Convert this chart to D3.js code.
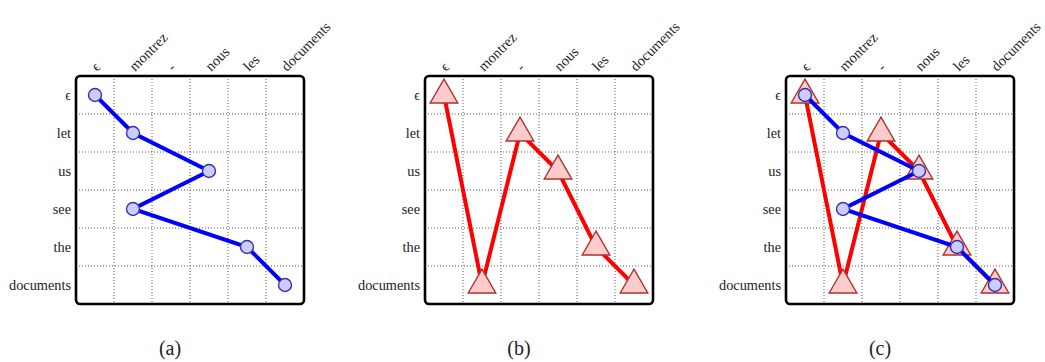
<!DOCTYPE html>
<html>
<head>
<meta charset="utf-8">
<script src="https://cdn.jsdelivr.net/npm/d3@7"></script>
<style>
  body { margin: 0; background: #fff; }
  svg text { font-family: "Liberation Serif", "Times New Roman", serif; fill: #222; }
</style>
</head>
<body>
<div id="chart"></div>
<script>
const sourceWords = ["ϵ", "montrez", "-", "nous", "les", "documents"];
const targetWords = ["ϵ", "let", "us", "see", "the", "documents"];
// blue alignment: column index for each target row, in row order
const blueCols = [0, 1, 3, 1, 4, 5];
// red alignment: row index for each source column, in column order
const redRows = [0, 5, 1, 2, 4, 5];
const captions = ["(a)", "(b)", "(c)"];
const panelShow = [["blue"], ["red"], ["red", "blue"]];

const w = 1045;
const h = 362;
const size = 228;
const topY = 76;
const lefts = [76, 425, 786];
const serif = "'Liberation Serif', 'Times New Roman', serif";

const svg = d3.select("#chart")
              .append("svg")
              .attr("width", w)
              .attr("height", h);

const xScale = d3.scaleBand().domain(d3.range(sourceWords.length)).range([0, size]);
const yScale = d3.scaleBand().domain(d3.range(targetWords.length)).range([0, size]);
const cx = i => xScale(i) + xScale.bandwidth() / 2;
const cy = i => yScale(i) + yScale.bandwidth() / 2;

const bluePts = blueCols.map((c, r) => [c, r]);
const redPts = redRows.map((r, c) => [c, r]);

const line = d3.line().x(d => cx(d[0])).y(d => cy(d[1]));
const tri = d3.symbol(d3.symbolTriangle, 330);

lefts.forEach((left, p) => {
    const g = svg.append("g").attr("transform", `translate(${left}, ${topY})`);

    // dotted grid
    g.selectAll(".vgrid")
     .data(d3.range(1, sourceWords.length))
     .enter().append("line")
     .attr("x1", d => xScale(d)).attr("x2", d => xScale(d))
     .attr("y1", 0).attr("y2", size)
     .attr("stroke", "#333").attr("stroke-width", 0.8)
     .attr("stroke-dasharray", "1 2");
    g.selectAll(".hgrid")
     .data(d3.range(1, targetWords.length))
     .enter().append("line")
     .attr("y1", d => yScale(d)).attr("y2", d => yScale(d))
     .attr("x1", 0).attr("x2", size)
     .attr("stroke", "#333").attr("stroke-width", 0.8)
     .attr("stroke-dasharray", "1 2");

    // axes
    const xAxis = d3.axisTop(xScale).tickSize(0).tickFormat(i => sourceWords[i]);
    const gx = g.append("g").attr("transform", "translate(0, -7)").call(xAxis);
    gx.attr("font-family", null).attr("font-size", null);
    gx.select(".domain").remove();
    gx.selectAll("text")
      .style("font-family", serif)
      .style("font-size", "14.5px")
      .attr("fill", "#222")
      .attr("text-anchor", "start")
      .attr("x", 0).attr("y", 0).attr("dy", "0.3em")
      .attr("transform", "translate(-1, 0) rotate(-45)");

    const yAxis = d3.axisLeft(yScale).tickSize(0).tickPadding(5).tickFormat(i => targetWords[i]);
    const gy = g.append("g").call(yAxis);
    gy.attr("font-family", null).attr("font-size", null);
    gy.select(".domain").remove();
    gy.selectAll("text")
      .style("font-family", serif)
      .style("font-size", "14.3px")
      .attr("fill", "#222");

    panelShow[p].forEach(s => {
        if (s === "red") {
            g.append("path")
             .attr("d", line(redPts))
             .attr("fill", "none")
             .attr("stroke", "#ff0000")
             .attr("stroke-width", 4);
            g.selectAll(".tri")
             .data(redPts)
             .enter().append("path")
             .attr("d", tri)
             .attr("transform", d => `translate(${cx(d[0])}, ${cy(d[1])})`)
             .attr("fill", "#ffcccc")
             .attr("stroke", "#b03030")
             .attr("stroke-width", 1.4);
        } else {
            g.append("path")
             .attr("d", line(bluePts))
             .attr("fill", "none")
             .attr("stroke", "#0000ff")
             .attr("stroke-width", 4);
            g.selectAll(".dot")
             .data(bluePts)
             .enter().append("circle")
             .attr("cx", d => cx(d[0]))
             .attr("cy", d => cy(d[1]))
             .attr("r", 6.5)
             .attr("fill", "#ccccff")
             .attr("stroke", "#3333aa")
             .attr("stroke-width", 1.4);
        }
    });

    // frame
    g.append("rect")
     .attr("x", 0).attr("y", 0)
     .attr("width", size).attr("height", size)
     .attr("rx", 4).attr("ry", 4)
     .attr("fill", "none")
     .attr("stroke", "#000")
     .attr("stroke-width", 2.6);

    svg.append("text")
       .attr("x", left + size / 2 - 20)
       .attr("y", 350)
       .attr("text-anchor", "middle")
       .attr("dominant-baseline", "middle")
       .style("font-family", serif)
       .style("font-size", "20px")
       .text(captions[p]);
});
</script>
</body>
</html>
